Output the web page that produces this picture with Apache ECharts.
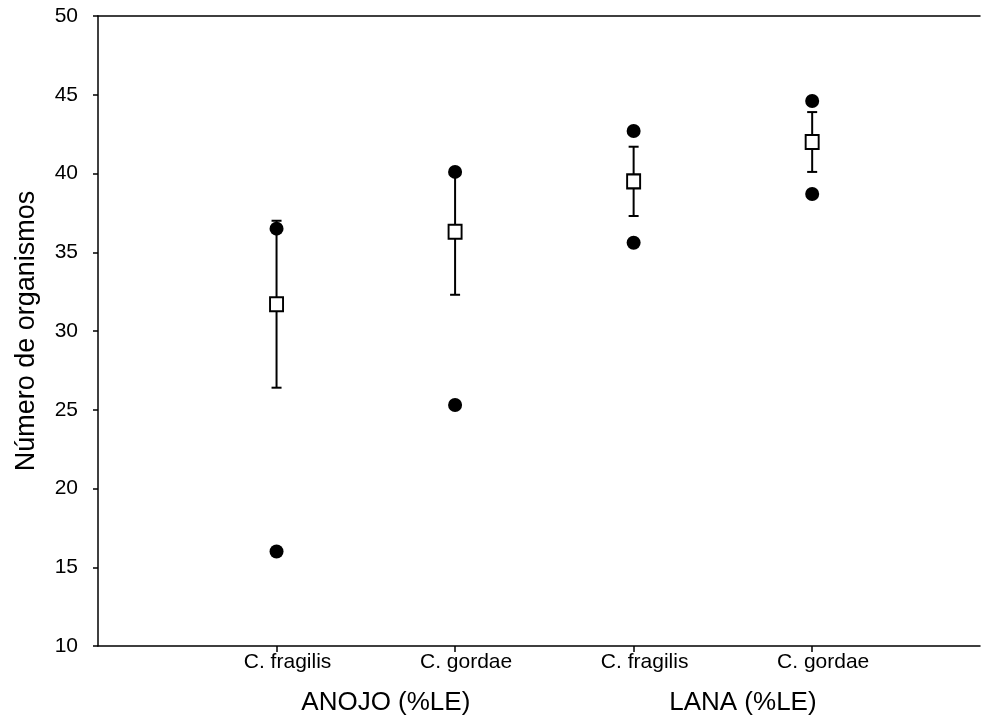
<!DOCTYPE html>
<html>
<head>
<meta charset="utf-8">
<script src="https://cdn.jsdelivr.net/npm/echarts@6/dist/echarts.min.js"></script>
<style>
  html, body { margin: 0; padding: 0; background: #fff; }
  #chart { width: 984px; height: 725px; }
</style>
</head>
<body>
<div id="chart"></div>
<script>
// Species per substrate, in plotting order
const categories = ['C. fragilis', 'C. gordae', 'C. fragilis', 'C. gordae'];
const groups = ['ANOJO (%LE)', 'LANA (%LE)'];
// Individual replicate counts (two per species)
const highCounts = [36.5, 40.1, 42.7, 44.6];
const lowCounts = [16.0, 25.3, 35.6, 38.7];
// Mean and error-bar limits
const means = [31.7, 36.3, 39.5, 42.0];
const errUpper = [37.0, 40.3, 41.7, 43.9];
const errLower = [26.4, 32.3, 37.3, 40.1];
const yTicks = [10, 15, 20, 25, 30, 35, 40, 45, 50];

const xs = categories.map((_, i) => i + 1);
const font = 'Liberation Sans, Arial, sans-serif';

const chart = echarts.init(document.getElementById('chart'));

chart.setOption({
  backgroundColor: '#fff',
  animation: false,
  grid: { left: 98, right: 4, top: 16, bottom: 79 },
  xAxis: [
    {
      type: 'value', min: 0, max: 4.94, position: 'bottom',
      axisLine: { show: true, lineStyle: { color: '#000', width: 1.5 } },
      axisTick: { show: true, customValues: xs, length: 6, lineStyle: { color: '#000', width: 1.5 } },
      axisLabel: {
        show: true, customValues: xs, margin: 6, color: '#000',
        fontFamily: font, fontSize: 21, padding: [0, 0, 0, 22],
        formatter: v => categories[Math.round(v) - 1] || ''
      },
      splitLine: { show: false }
    },
    {
      type: 'value', min: 0, max: 4.94, position: 'bottom',
      axisLine: { show: false }, axisTick: { show: false },
      axisLabel: {
        show: true, customValues: [1.5, 3.5], margin: 44, color: '#000',
        fontFamily: font, fontSize: 26, padding: [0, 0, 0, 40],
        formatter: v => groups[v < 2.5 ? 0 : 1]
      },
      splitLine: { show: false }
    },
    {
      type: 'value', min: 0, max: 4.94, position: 'top',
      axisLine: { show: true, lineStyle: { color: '#000', width: 1.5 } },
      axisTick: { show: false }, axisLabel: { show: false },
      splitLine: { show: false }
    }
  ],
  yAxis: {
    type: 'value', min: 10, max: 50, interval: 5,
    name: 'Número de organismos', nameLocation: 'middle', nameGap: 58,
    nameTextStyle: { color: '#000', fontFamily: font, fontSize: 27 },
    axisLine: { show: true, lineStyle: { color: '#000', width: 1.5 } },
    axisTick: { show: true, length: 5, lineStyle: { color: '#000', width: 1.5 } },
    axisLabel: {
      color: '#000', fontFamily: font, fontSize: 21, margin: 20,
      formatter: v => (yTicks.includes(v) ? String(v) : '')
    },
    splitLine: { show: false }
  },
  series: [
    {
      name: 'error',
      type: 'custom',
      xAxisIndex: 0,
      data: xs.map((x, i) => [x, errLower[i], errUpper[i]]),
      renderItem: (params, api) => {
        const lo = api.coord([api.value(0), api.value(1)]);
        const hi = api.coord([api.value(0), api.value(2)]);
        const cap = 5;
        const style = { stroke: '#000', lineWidth: 2 };
        return {
          type: 'group',
          children: [
            { type: 'line', shape: { x1: hi[0], y1: hi[1], x2: lo[0], y2: lo[1] }, style },
            { type: 'line', shape: { x1: hi[0] - cap, y1: hi[1], x2: hi[0] + cap, y2: hi[1] }, style },
            { type: 'line', shape: { x1: lo[0] - cap, y1: lo[1], x2: lo[0] + cap, y2: lo[1] }, style }
          ]
        };
      },
      z: 2
    },
    {
      name: 'counts',
      type: 'scatter',
      xAxisIndex: 0,
      symbol: 'circle', symbolSize: 14,
      itemStyle: { color: '#000', opacity: 1 },
      data: xs.map((x, i) => [x, highCounts[i]]).concat(xs.map((x, i) => [x, lowCounts[i]])),
      z: 3
    },
    {
      name: 'mean',
      type: 'scatter',
      xAxisIndex: 0,
      symbol: 'rect', symbolSize: [13, 14],
      itemStyle: { color: '#fff', borderColor: '#000', borderWidth: 2, opacity: 1 },
      data: xs.map((x, i) => [x, means[i]]),
      z: 4
    }
  ]
});
</script>
</body>
</html>
